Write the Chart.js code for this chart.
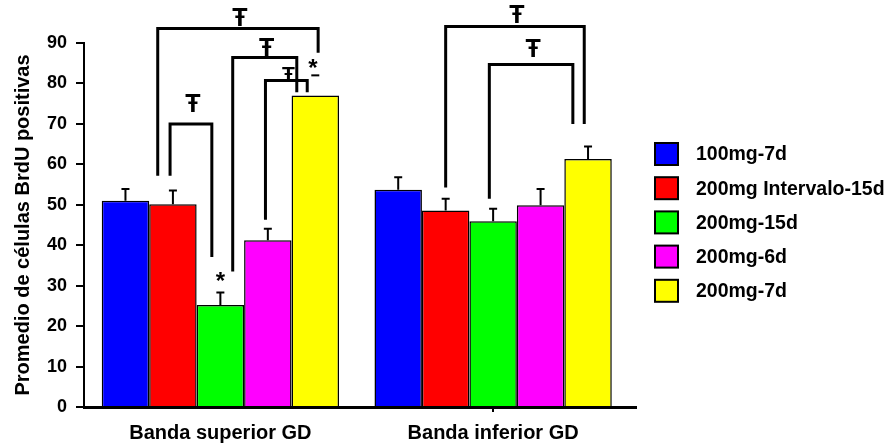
<!DOCTYPE html>
<html>
<head>
<meta charset="utf-8">
<script src="https://cdn.jsdelivr.net/npm/chart.js@4/dist/chart.umd.min.js"></script>
<style>
  html, body { margin: 0; padding: 0; background: #fff; }
  #wrap { width: 889px; height: 444px; }
</style>
</head>
<body>
<div id="wrap"><canvas id="brdu" width="889" height="444"></canvas></div>
<script>
// categories and series
var categories = ["Banda superior GD", "Banda inferior GD"];
var seriesNames = ["100mg-7d", "200mg Intervalo-15d", "200mg-15d", "200mg-6d", "200mg-7d"];
var seriesColors = ["#0000ff", "#ff0000", "#00ff00", "#ff00ff", "#ffff00"];

// means (superior, inferior)
var mg100_7d = [51.0, 53.7];
var mg200_int15d = [50.1, 48.6];
var mg200_15d = [25.2, 45.9];
var mg200_6d = [41.2, 49.9];
var mg200_7d = [77.0, 61.3];

// error (upper part only)
var err100_7d = [2.9, 3.1];
var err200_int15d = [3.4, 2.9];
var err200_15d = [3.1, 3.1];
var err200_6d = [2.9, 4.0];
var err200_7d = [5.0, 3.1];

var yTicks = [0, 10, 20, 30, 40, 50, 60, 70, 80, 90];

var means = [mg100_7d, mg200_int15d, mg200_15d, mg200_6d, mg200_7d];
var errors = [err100_7d, err200_int15d, err200_15d, err200_6d, err200_7d];
var capOnly = [[4, 0]]; // series, group: cap drawn without stem

// significance brackets: group, [series, offset in bar widths] for each leg,
// bar top value, leg end values, symbol baseline value
var brackets = [
  { g: 0, a: [1, -0.06], b: [2, -0.18], top: 70.0, aEnd: 57.2, bEnd: 37.1, sym: 73.0, size: 25 },
  { g: 0, a: [1, -0.32], b: [4, 0.06], top: 93.6, aEnd: 57.2, bEnd: 87.6, sym: 94.3, size: 25 },
  { g: 0, a: [2, 0.26], b: [4, -0.39], top: 86.4, aEnd: 33.5, bEnd: 77.8, sym: 86.9, size: 25 },
  { g: 0, a: [3, -0.05], b: [4, -0.17], top: 80.7, aEnd: 46.3, bEnd: 77.8, sym: 80.5, size: 21 },
  { g: 1, a: [1, 0.0], b: [4, -0.08], top: 94.1, aEnd: 54.3, bEnd: 70.0, sym: 95.0, size: 25 },
  { g: 1, a: [2, -0.08], b: [4, -0.32], top: 84.7, aEnd: 51.5, bEnd: 70.0, sym: 86.6, size: 25 }
];
// asterisks: group, series, offset, centre value
var stars = [
  { g: 0, s: 2, off: 0.0, v: 32.2 },
  { g: 0, s: 4, off: -0.05, v: 84.9 }
];

var FONT = "'Liberation Sans', Arial, sans-serif";

var datasets = means.map(function (m, i) {
  return {
    label: seriesNames[i],
    data: m,
    backgroundColor: seriesColors[i],
    borderColor: "#000",
    borderWidth: 1.5,
    categoryPercentage: 0.87,
    barPercentage: 1.0
  };
});

var extras = {
  id: "extras",
  afterDatasetsDraw: function (chart) {
    var c = chart.ctx, y = chart.scales.y;
    c.save();
    c.strokeStyle = "#000";
    c.fillStyle = "#000";

    // error bars
    chart.data.datasets.forEach(function (ds, i) {
      chart.getDatasetMeta(i).data.forEach(function (bar, j) {
        var top = y.getPixelForValue(ds.data[j] + errors[i][j]);
        var noStem = capOnly.some(function (p) { return p[0] === i && p[1] === j; });
        c.lineWidth = 2;
        c.beginPath();
        if (!noStem) { c.moveTo(bar.x, bar.y); c.lineTo(bar.x, top); }
        c.moveTo(bar.x - 4, top);
        c.lineTo(bar.x + 4, top);
        c.stroke();
      });
    });

    function legX(g, leg) {
      var bar = chart.getDatasetMeta(leg[0]).data[g];
      return bar.x + leg[1] * bar.width;
    }

    // brackets
    brackets.forEach(function (b) {
      var ax = legX(b.g, b.a), bx = legX(b.g, b.b), ty = y.getPixelForValue(b.top);
      c.lineWidth = 3;
      c.lineJoin = "miter";
      c.beginPath();
      c.moveTo(ax, y.getPixelForValue(b.aEnd));
      c.lineTo(ax, ty);
      c.lineTo(bx, ty);
      c.lineTo(bx, y.getPixelForValue(b.bEnd));
      c.stroke();
      c.font = "bold " + b.size + "px " + FONT;
      c.textAlign = "center";
      c.textBaseline = "alphabetic";
      c.fillText("\u0166", (ax + bx) / 2 + 2, y.getPixelForValue(b.sym));
    });

    // asterisks
    c.font = "bold 24px " + FONT;
    c.textAlign = "center";
    c.textBaseline = "alphabetic";
    stars.forEach(function (s) {
      var bar = chart.getDatasetMeta(s.s).data[s.g];
      var m = c.measureText("*");
      var cy = y.getPixelForValue(s.v) + (m.actualBoundingBoxAscent - m.actualBoundingBoxDescent) / 2;
      c.fillText("*", bar.x + s.off * bar.width, cy);
    });
    c.restore();
  },
  afterDraw: function (chart) {
    var c = chart.ctx, area = chart.chartArea;
    c.save();
    // x axis runs a little past the last category
    var yb = Math.round(chart.scales.x.top - 1.5) + 1.5;
    c.strokeStyle = "#000";
    c.lineWidth = 3;
    c.beginPath();
    c.moveTo(area.right - 2, yb);
    c.lineTo(area.right + 7.5, yb);
    c.stroke();

    // legend
    c.font = "bold 19.5px " + FONT;
    c.textAlign = "left";
    c.textBaseline = "middle";
    chart.data.datasets.forEach(function (ds, i) {
      var top = 143 + i * 34.2;
      c.fillStyle = ds.backgroundColor;
      c.fillRect(655, top, 23, 22);
      c.lineWidth = 2;
      c.strokeRect(655, top, 23, 22);
      c.fillStyle = "#000";
      c.fillText(ds.label, 696, top + 12);
    });
    c.restore();
  }
};

var chart = new Chart(document.getElementById("brdu"), {
  type: "bar",
  data: { labels: categories, datasets: datasets },
  plugins: [extras],
  options: {
    responsive: false,
    animation: false,
    layout: { padding: { top: 43, right: 259.5, left: 0, bottom: 0 } },
    plugins: { legend: { display: false }, tooltip: { enabled: false } },
    scales: {
      x: {
        grid: {
          offset: false,
          drawOnChartArea: false,
          tickLength: 5,
          lineWidth: 2,
          tickColor: function (ctx) { return ctx.index === 1 ? "#000" : "rgba(0,0,0,0)"; }
        },
        border: { color: "#000", width: 3 },
        ticks: { color: "#000", font: { family: FONT, size: 20, weight: "bold" }, padding: 9 },
        afterFit: function (s) { s.height = 37; }
      },
      y: {
        min: 0,
        max: 90,
        ticks: {
          stepSize: 5,
          color: "#000",
          padding: 9,
          font: { family: FONT, size: 18, weight: "bold" },
          callback: function (v) { return yTicks.indexOf(v) >= 0 ? v : ""; }
        },
        grid: { drawOnChartArea: false, tickLength: 8, lineWidth: 2, color: "#000" },
        border: { color: "#000", width: 2 },
        title: {
          display: true,
          text: "Promedio de células BrdU positivas",
          color: "#000",
          font: { family: FONT, size: 20, weight: "bold" },
          padding: { top: 11, bottom: 0 }
        },
        afterFit: function (s) { s.width = 84; }
      }
    }
  }
});
</script>
</body>
</html>
